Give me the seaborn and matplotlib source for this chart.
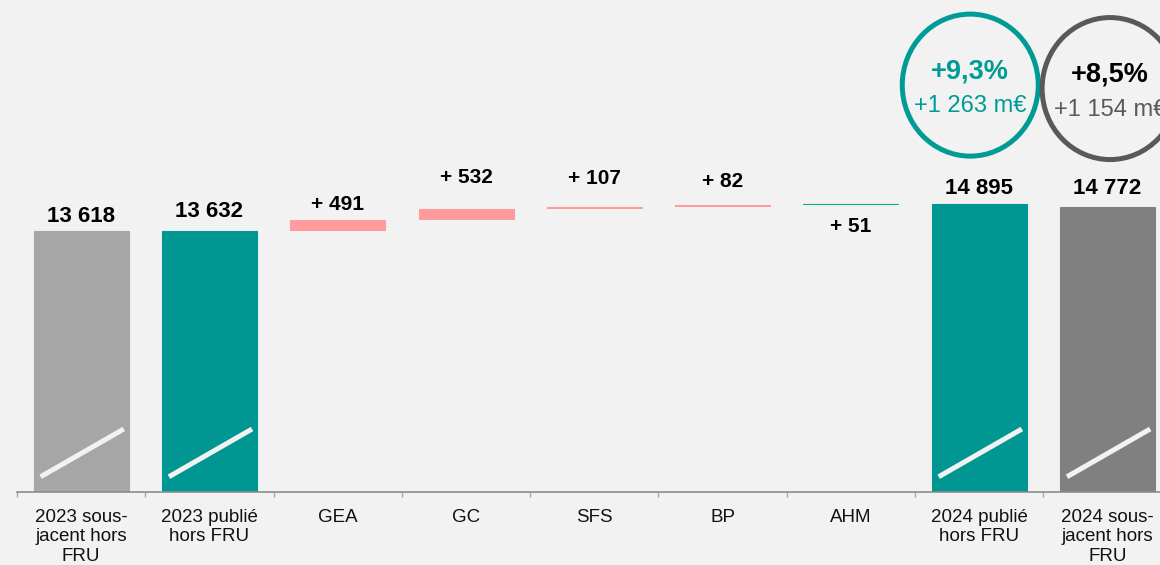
import matplotlib
matplotlib.use("Agg")
import matplotlib.pyplot as plt
import seaborn as sns
import pandas as pd
from matplotlib.patches import Ellipse
from matplotlib.transforms import blended_transform_factory

# Données du graphique (m€)
categories = ["2023 sous-\njacent hors\nFRU", "2023 publié\nhors FRU", "GEA", "GC", "SFS", "BP", "AHM",
              "2024 publié\nhors FRU", "2024 sous-\njacent hors\nFRU"]
kinds = ["total", "total", "delta", "delta", "delta", "delta", "delta", "total", "total"]
values = [13618, 13632, 491, 532, 107, 82, 51, 14895, 14772]
bar_colors = ["#A6A6A6", "#009691", "#FF9B9B", "#FF9B9B", "#FF9B9B", "#FF9B9B", "#00B388", "#009691", "#808080"]

growth_pct = ["+9,3%", "+8,5%"]
growth_abs = ["+1 263 m€", "+1 154 m€"]
growth_pct_colors = ["#009B95", "#000000"]
growth_colors = ["#009B95", "#595959"]

BG = "#F2F2F2"

# Calcul du waterfall
bottoms, tops = [], []
running = 0
for k, v in zip(kinds, values):
    if k == "total":
        bottoms.append(0)
        tops.append(v)
        running = v
    else:
        bottoms.append(running)
        tops.append(running + v)
        running += v

df = pd.DataFrame({"cat": categories, "top": tops, "bottom": bottoms})

sns.set_style("white")
plt.rcParams["font.family"] = ["Liberation Sans", "DejaVu Sans"]

fig = plt.figure(figsize=(11.6, 5.65), dpi=100, facecolor=BG)
ax = fig.add_axes([17 / 1160, 73 / 565, 1143 / 1160, 492 / 565])
ax.set_facecolor(BG)

sns.barplot(data=df, x="cat", y="top", hue="cat", palette=bar_colors, legend=False,
            width=0.74, saturation=1, linewidth=0, ax=ax)
# petites barres un peu plus visibles
for p in ax.patches:
    p.set_edgecolor(p.get_facecolor())
    p.set_linewidth(0.8)
# masque la partie basse des barres flottantes
sns.barplot(data=df, x="cat", y="bottom", color=BG, width=0.8, saturation=1, linewidth=0, ax=ax)

# Axes
for s in ["left", "top", "right"]:
    ax.spines[s].set_visible(False)
ax.spines["bottom"].set_color("#8C8C8C")
ax.spines["bottom"].set_linewidth(1.2)
ax.set_yticks([])
ax.set_xlabel("")
ax.set_ylabel("")
ax.set_xticks(range(len(categories)))
ax.set_xticklabels(categories, fontsize=13.5, color="#111111", linespacing=1.2)
ax.set_xticks([i - 0.5 for i in range(len(categories))], minor=True)
ax.tick_params(axis="x", which="major", bottom=True, length=0, pad=12)
ax.tick_params(axis="x", which="minor", bottom=True, length=3.6, width=1, color="#A6A6A6",
               direction="out")

ax.set_ylim(1417, 24442)
ax.set_xlim(-0.5, -0.5 + 1143 / 128.3)

# Etiquettes de valeurs
offsets = [15, 19, 16, 32, 28, 24, -22, 16, 18]
for i, (k, v) in enumerate(zip(kinds, values)):
    txt = f"{v:,}".replace(",", " ")
    if k == "delta":
        txt = "+ " + txt
        size = 15
    else:
        size = 16
    ax.annotate(txt, (i, tops[i]), xytext=(0, offsets[i]), textcoords="offset pixels",
                ha="center", va="center", fontsize=size, fontweight="bold", color="#000000",
                annotation_clip=False)

# Marques de rupture d'axe
trans = blended_transform_factory(ax.transData, ax.transAxes)
for i, k in enumerate(kinds):
    if k == "total":
        ax.plot([i - 0.316, i + 0.332], [0.031, 0.128], transform=trans, color=BG,
                lw=3.6, solid_capstyle="butt", zorder=5)

# Cercles de croissance
circle_x = [6.93, 8.02]
circle_y = [0.827, 0.82]
for j in range(2):
    ax.add_patch(Ellipse((circle_x[j], circle_y[j]), width=136 / 128.3, height=142 / 492,
                         transform=trans, facecolor="none", edgecolor=growth_colors[j],
                         lw=3.6, clip_on=False, zorder=6))
    ax.text(circle_x[j], circle_y[j] + 0.028, growth_pct[j], transform=trans, ha="center",
            va="center", fontsize=19.5, fontweight="bold", color=growth_pct_colors[j])
    ax.text(circle_x[j], circle_y[j] - 0.043, growth_abs[j], transform=trans, ha="center",
            va="center", fontsize=17, color=growth_colors[j])

fig.savefig("out.png", dpi=100, facecolor=BG)
